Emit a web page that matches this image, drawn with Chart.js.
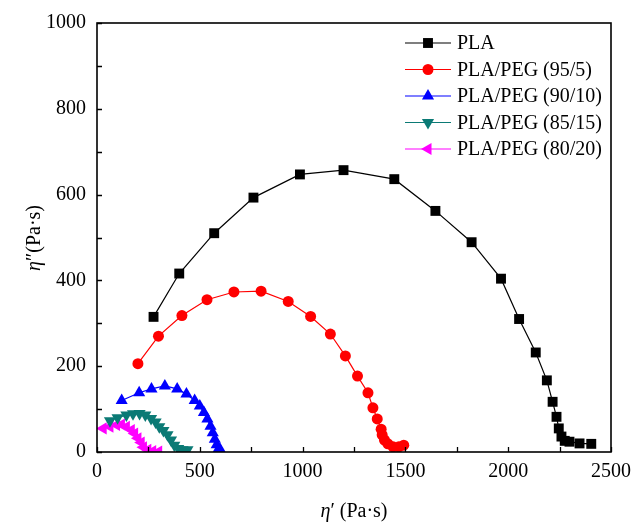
<!DOCTYPE html>
<html>
<head>
<meta charset="utf-8">
<script src="https://cdn.jsdelivr.net/npm/chart.js@4"></script>
<style>
  html, body { margin: 0; padding: 0; background: #fff; }
  canvas { display: block; }
</style>
</head>
<body>
<canvas id="coleCole" width="639" height="524"></canvas>
<script>
// ─── Data (η' vs η'') ───
const plaX = [275, 400, 570, 761, 987, 1199, 1446, 1646, 1822, 1965, 2053, 2134, 2188, 2216, 2235, 2246, 2259, 2275, 2298, 2347, 2404];
const plaY = [315, 416, 510, 593, 647, 657, 636, 562, 489, 404, 310, 232, 167, 117, 82, 55, 36, 26, 24, 20, 19];

const peg5X = [199, 299, 413, 535, 666, 798, 930, 1039, 1135, 1208, 1267, 1318, 1342, 1363, 1382, 1387, 1398, 1415, 1440, 1468, 1492];
const peg5Y = [206, 270, 318, 355, 373, 375, 351, 316, 275, 224, 177, 138, 103, 77, 53, 40, 28, 19, 12, 12, 16];

const peg10X = [120, 205, 265, 330, 390, 435, 475, 500, 520, 537, 552, 563, 573, 582, 592, 600];
const peg10Y = [120, 138, 147, 154, 147, 135, 120, 107, 92, 77, 60, 45, 30, 17, 8, 5];

const peg15X = [63, 100, 143, 175, 207, 235, 263, 285, 303, 323, 343, 360, 376, 395, 416, 440];
const peg15Y = [73, 80, 86, 89, 90, 86, 78, 70, 59, 50, 40, 28, 16, 8, 5, 5];

const peg20X = [30, 63, 95, 119, 143, 167, 183, 199, 215, 226, 247, 271, 300];
const peg20Y = [55, 59, 63, 64, 59, 51, 43, 32, 22, 11, 5, 2, 1];

const seriesLabels = ['PLA', 'PLA/PEG (95/5)', 'PLA/PEG (90/10)', 'PLA/PEG (85/15)', 'PLA/PEG (80/20)'];
const xTickStep = 500, xMinorStep = 250;
const yTickStep = 200, yMinorStep = 100;

const FONT = "'Liberation Serif', 'Times New Roman', 'DejaVu Serif', serif";

const pts = (xs, ys) => xs.map((x, i) => ({ x: x, y: ys[i] }));

const styles = [
    { color: '#000000', pointStyle: 'rect', radius: 7, rotation: 0 },
    { color: '#ff0000', pointStyle: 'circle', radius: 5.5, rotation: 0 },
    { color: '#0000ff', pointStyle: 'triangle', radius: 7, rotation: 0 },
    { color: '#0b7a75', pointStyle: 'triangle', radius: 7, rotation: 180 },
    { color: '#ff00ff', pointStyle: 'triangle', radius: 7, rotation: 270 }
];
const seriesData = [
    pts(plaX, plaY), pts(peg5X, peg5Y), pts(peg10X, peg10Y), pts(peg15X, peg15Y), pts(peg20X, peg20Y)
];

// ─── Frame, inward ticks, legend, axis titles ───
const decorPlugin = {
    id: 'decor',
    afterDraw(chart) {
        const { ctx, chartArea: a, scales: { x, y } } = chart;
        ctx.save();

        // ticks pointing inward
        ctx.strokeStyle = '#000';
        ctx.lineWidth = 1.3;
        ctx.beginPath();
        for (let v = 0; v <= 2500; v += xMinorStep) {
            const px = Math.round(x.getPixelForValue(v)) + 0.5;
            ctx.moveTo(px, a.bottom);
            ctx.lineTo(px, a.bottom - 5);
        }
        for (let v = 0; v <= 1000; v += yMinorStep) {
            const py = Math.round(y.getPixelForValue(v)) + 0.5;
            ctx.moveTo(a.left, py);
            ctx.lineTo(a.left + 5, py);
        }
        ctx.stroke();

        // frame
        ctx.lineWidth = 1.6;
        ctx.strokeRect(a.left, a.top, a.right - a.left, a.bottom - a.top);

        // legend
        ctx.font = '20px ' + FONT;
        ctx.textBaseline = 'middle';
        ctx.textAlign = 'left';
        seriesLabels.forEach((lab, i) => {
            const st = styles[i];
            const ly = 43 + i * 26.5;
            ctx.strokeStyle = st.color;
            ctx.lineWidth = 1.2;
            ctx.beginPath();
            ctx.moveTo(405, ly);
            ctx.lineTo(451, ly);
            ctx.stroke();
            ctx.fillStyle = st.color;
            Chart.helpers.drawPoint(ctx, {
                pointStyle: st.pointStyle, radius: st.radius, rotation: st.rotation, borderWidth: 0
            }, 428, ly);
            ctx.fillStyle = '#000';
            ctx.fillText(lab, 457, ly + 1);
        });

        // x title: η′ (Pa·s)
        ctx.fillStyle = '#000';
        ctx.textBaseline = 'alphabetic';
        const xt1 = 'η', xt2 = '′ (Pa·s)';
        ctx.font = 'italic 20px ' + FONT;
        const w1 = ctx.measureText(xt1).width;
        ctx.font = '20px ' + FONT;
        const w2 = ctx.measureText(xt2).width;
        let sx = (a.left + a.right) / 2 - (w1 + w2) / 2;
        ctx.font = 'italic 20px ' + FONT;
        ctx.fillText(xt1, sx, 517);
        ctx.font = '20px ' + FONT;
        ctx.fillText(xt2, sx + w1, 517);

        // y title: η″(Pa·s)
        ctx.save();
        ctx.translate(40, 238);
        ctx.rotate(-Math.PI / 2);
        const yt1 = 'η', yt2 = '″(Pa·s)';
        ctx.font = 'italic 20px ' + FONT;
        const v1 = ctx.measureText(yt1).width;
        ctx.font = '20px ' + FONT;
        const v2 = ctx.measureText(yt2).width;
        const sy = -(v1 + v2) / 2;
        ctx.font = 'italic 20px ' + FONT;
        ctx.fillText(yt1, sy, 0);
        ctx.font = '20px ' + FONT;
        ctx.fillText(yt2, sy + v1, 0);
        ctx.restore();

        ctx.restore();
    }
};

new Chart(document.getElementById('coleCole'), {
    type: 'scatter',
    data: {
        datasets: seriesData.map((d, i) => ({
            label: seriesLabels[i],
            data: d,
            showLine: true,
            borderColor: styles[i].color,
            backgroundColor: styles[i].color,
            borderWidth: 1.2,
            pointStyle: styles[i].pointStyle,
            pointRadius: styles[i].radius,
            pointRotation: styles[i].rotation,
            pointBorderWidth: 0,
            pointHoverRadius: styles[i].radius,
            tension: 0
        }))
    },
    options: {
        responsive: false,
        animation: false,
        layout: { padding: { top: 22, right: 23, left: 0, bottom: 0 } },
        plugins: { legend: { display: false }, tooltip: { enabled: false } },
        scales: {
            x: {
                type: 'linear',
                min: 0,
                max: 2500,
                ticks: { stepSize: xTickStep, color: '#000', padding: 8, maxRotation: 0,
                         callback: v => String(v), font: { family: FONT, size: 20 } },
                grid: { display: false, drawTicks: false },
                border: { display: false },
                afterFit: s => { s.height = 72; }
            },
            y: {
                type: 'linear',
                min: 0,
                max: 1000,
                ticks: { stepSize: yTickStep, color: '#000', padding: 11,
                         callback: v => String(v), font: { family: FONT, size: 20 } },
                grid: { display: false, drawTicks: false },
                border: { display: false },
                afterFit: s => { s.width = 97; }
            }
        }
    },
    plugins: [decorPlugin]
});
</script>
</body>
</html>
